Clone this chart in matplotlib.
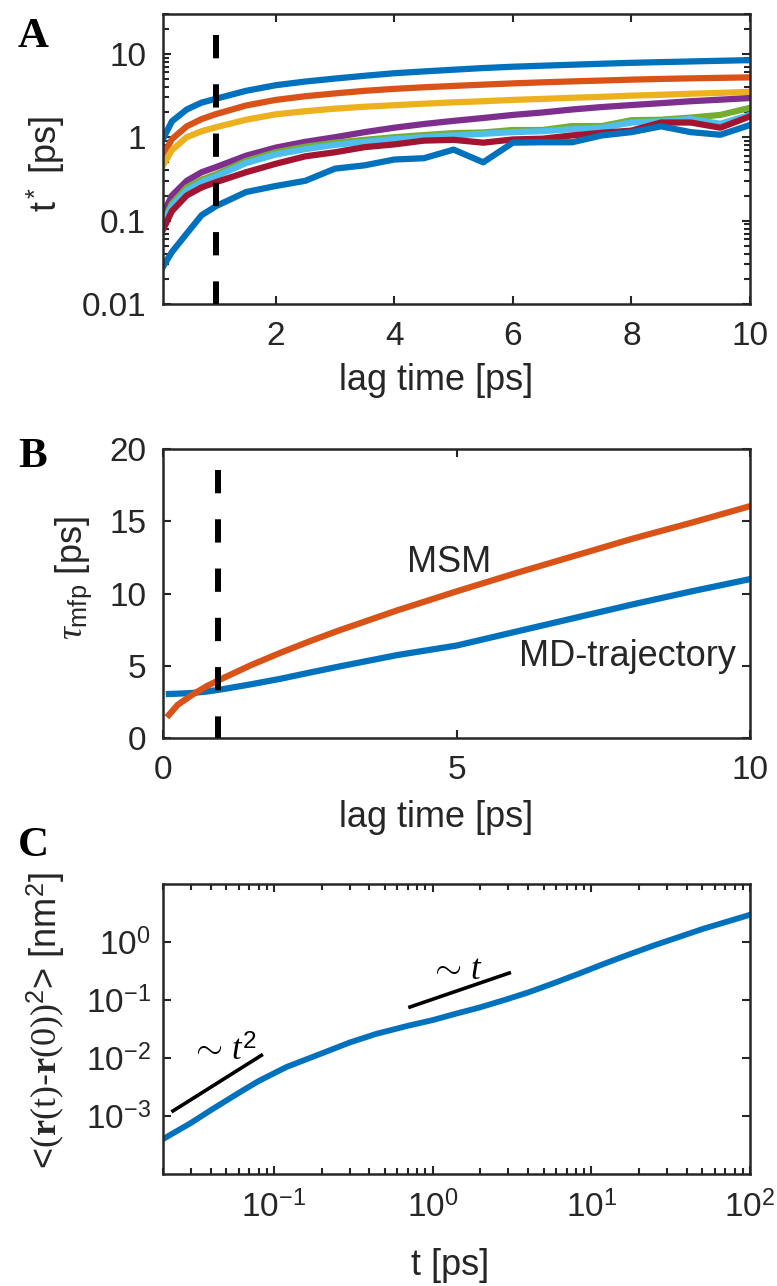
import numpy as np
import matplotlib
matplotlib.use('Agg')
import matplotlib.pyplot as plt
from matplotlib.ticker import LogLocator, NullFormatter, NullLocator

plt.rcParams['font.family'] = ['Liberation Sans', 'DejaVu Sans']
plt.rcParams['mathtext.fontset'] = 'custom'
plt.rcParams['mathtext.rm'] = 'Liberation Sans'
plt.rcParams['mathtext.it'] = 'Liberation Serif:italic'
plt.rcParams['mathtext.bf'] = 'Liberation Serif:bold'
plt.rcParams['mathtext.sf'] = 'Liberation Serif'

# ---- panel A: t* vs lag time, one curve per state ----
lag_a = [0.1, 0.25, 0.5, 0.75, 1.0, 1.5, 2.0, 2.5, 3.0, 3.5, 4.0, 4.5,
         5.0, 5.5, 6.0, 6.5, 7.0, 7.5, 8.0, 8.5, 9.0, 9.5, 10.0]
tstar_1 = [0.95, 1.55, 2.15, 2.6, 2.9, 3.6, 4.2, 4.65, 5.05, 5.45, 5.85, 6.15,
           6.45, 6.75, 7.0, 7.2, 7.4, 7.6, 7.8, 7.95, 8.1, 8.25, 8.4]
tstar_2 = [0.6, 0.95, 1.35, 1.65, 1.9, 2.4, 2.8, 3.1, 3.35, 3.6, 3.8, 3.97,
           4.12, 4.27, 4.42, 4.55, 4.67, 4.78, 4.9, 5.0, 5.08, 5.15, 5.22]
tstar_3 = [0.46, 0.7, 1.0, 1.18, 1.32, 1.62, 1.88, 2.05, 2.2, 2.32, 2.42, 2.52,
           2.62, 2.7, 2.8, 2.88, 2.97, 3.05, 3.15, 3.23, 3.32, 3.4, 3.5]
tstar_4 = [0.12, 0.2, 0.3, 0.38, 0.44, 0.6, 0.75, 0.88, 1.0, 1.15, 1.3, 1.44,
           1.57, 1.7, 1.85, 1.98, 2.15, 2.3, 2.43, 2.56, 2.7, 2.82, 2.95]
tstar_5 = [0.095, 0.16, 0.25, 0.31, 0.36, 0.52, 0.66, 0.77, 0.86, 0.93, 1.0, 1.06,
           1.12, 1.14, 1.22, 1.22, 1.36, 1.36, 1.6, 1.62, 1.72, 1.85, 2.25]
tstar_6 = [0.09, 0.15, 0.23, 0.29, 0.34, 0.49, 0.62, 0.72, 0.81, 0.88, 0.95, 1.0,
           1.05, 1.1, 1.15, 1.18, 1.25, 1.3, 1.5, 1.55, 1.65, 1.45, 1.85]
tstar_7 = [0.078, 0.13, 0.2, 0.25, 0.29, 0.38, 0.48, 0.59, 0.66, 0.76, 0.82, 0.91,
           0.93, 0.86, 0.94, 0.96, 1.05, 1.13, 1.2, 1.5, 1.5, 1.3, 1.78]
tstar_8 = [0.028, 0.042, 0.07, 0.116, 0.15, 0.22, 0.26, 0.3, 0.42, 0.46, 0.54, 0.56,
           0.71, 0.5, 0.86, 0.87, 0.87, 1.05, 1.15, 1.35, 1.15, 1.07, 1.4]
tstar_all = [tstar_1, tstar_2, tstar_3, tstar_4, tstar_5, tstar_6, tstar_7, tstar_8]
colors_a = ['#0072BD', '#D95319', '#EDB120', '#7E2F8E', '#77AC30', '#4DBEEE',
            '#A2142F', '#0072BD']

# ---- panel B: mean first passage time ----
lag_b = [0.1, 0.25, 0.5, 0.75, 1.0, 1.5, 2.0, 2.5, 3.0, 4.0, 5.0, 6.0, 7.0, 8.0, 9.0, 10.0]
tau_md = [3.05, 3.07, 3.12, 3.22, 3.37, 3.72, 4.1, 4.53, 4.95, 5.75, 6.4, 7.35,
          8.3, 9.25, 10.15, 11.0]
tau_msm = [1.6, 2.3, 3.0, 3.6, 4.1, 5.05, 5.9, 6.7, 7.45, 8.85, 10.15, 11.4,
           12.6, 13.8, 14.9, 16.05]

# ---- panel C: mean squared displacement ----
t_c = [0.02, 0.03, 0.04, 0.06, 0.08, 0.12, 0.2, 0.3, 0.44, 0.7, 1.0, 1.4, 2.0,
       2.8, 4.0, 5.8, 8.5, 12, 17, 25, 35, 51, 70, 100]
msd = [4.0e-4, 7.6e-4, 1.26e-3, 2.5e-3, 4.0e-3, 7.0e-3, 1.2e-2, 1.85e-2, 2.6e-2,
       3.6e-2, 4.5e-2, 5.8e-2, 7.5e-2, 9.9e-2, 0.135, 0.195, 0.29, 0.42, 0.6,
       0.88, 1.2, 1.7, 2.2, 2.95]
guide_t2_x = [0.0231, 0.0833]
guide_t2_y = [1.22e-3, 1.11e-2]
guide_t1_x = [0.72, 3.04]
guide_t1_y = [0.0757, 0.292]

INK = '#262626'
TICK_FS = 24
LABEL_FS = 26


def style(ax):
  for s in ax.spines.values():
    s.set_linewidth(1.8)
    s.set_color(INK)
  ax.tick_params(which='both', direction='in', top=True, right=True,
                 color=INK, labelcolor=INK, labelsize=TICK_FS, pad=12, width=1.5)
  ax.tick_params(which='major', length=6)
  ax.tick_params(which='minor', length=4)


fig = plt.figure(figsize=(7.77, 12.86), dpi=100)

# panel A
axA = fig.add_axes([0.2098, 0.7636, 0.7555, 0.2255])
for vals, c in zip(tstar_all, colors_a):
  axA.plot(lag_a, vals, color=c, lw=4.5, solid_joinstyle='round')
axA.plot([1.0, 1.0], [17, 0.01], color='black', lw=4.3, linestyle=(0, (3.9, 4.35)), zorder=5)
axA.set_yscale('log')
axA.set_xlim(0.1, 10)
axA.set_ylim(0.01, 30)
axA.set_xticks([2, 4, 6, 8, 10])
axA.set_yticks([0.01, 0.1, 1, 10])
axA.set_yticklabels(['0.01', '0.1', '1', '10'])
axA.yaxis.set_minor_locator(LogLocator(base=10, subs=np.arange(2, 10)))
axA.yaxis.set_minor_formatter(NullFormatter())
style(axA)
axA.set_xlabel('lag time [ps]', fontsize=LABEL_FS, color=INK)
axA.set_ylabel('t$^*$ [ps]', fontsize=LABEL_FS, color=INK)
axA.xaxis.set_label_coords(0.466, -0.205)
axA.yaxis.set_label_coords(-0.164, 0.483)

# panel B
axB = fig.add_axes([0.2098, 0.4261, 0.7555, 0.2247])
axB.plot(lag_b, tau_md, color='#0072BD', lw=4.5)
axB.plot(lag_b, tau_msm, color='#D95319', lw=4.5)
axB.plot([0.93, 0.93], [18.55, 0], color='black', lw=4.3, linestyle=(0, (3.9, 4.35)), zorder=5)
axB.set_xlim(0, 10)
axB.set_ylim(0, 20)
axB.set_xticks([0, 5, 10])
axB.set_yticks([0, 5, 10, 15, 20])
style(axB)
axB.text(4.15, 11.5, 'MSM', fontsize=26, color=INK, ha='left', va='baseline')
axB.text(7.92, 4.98, 'MD-trajectory', fontsize=26, color=INK, ha='center', va='baseline')
axB.set_xlabel('lag time [ps]', fontsize=LABEL_FS, color=INK)
axB.set_ylabel(r'$\tau_{\mathrm{mfp}}$ [ps]', fontsize=LABEL_FS, color=INK)
axB.xaxis.set_label_coords(0.466, -0.215)
axB.yaxis.set_label_coords(-0.118, 0.554)

# panel C
axC = fig.add_axes([0.2098, 0.0871, 0.7555, 0.2255])
axC.plot(t_c, msd, color='#0072BD', lw=4.2)
axC.plot(guide_t2_x, guide_t2_y, color='black', lw=2.6)
axC.plot(guide_t1_x, guide_t1_y, color='black', lw=2.6)
axC.set_xscale('log')
axC.set_yscale('log')
axC.set_xlim(0.02, 100)
axC.set_ylim(1e-4, 10)
axC.set_xticks([0.1, 1, 10, 100])
axC.set_xticklabels([r'$10^{-1}$', r'$10^{0}$', r'$10^{1}$', r'$10^{2}$'])
axC.set_yticks([1e-3, 1e-2, 1e-1, 1])
axC.set_yticklabels([r'$10^{-3}$', r'$10^{-2}$', r'$10^{-1}$', r'$10^{0}$'])
axC.xaxis.set_minor_locator(LogLocator(base=10, subs=np.arange(2, 10)))
axC.xaxis.set_minor_formatter(NullFormatter())
axC.yaxis.set_minor_locator(NullLocator())
style(axC)
axC.tick_params(axis='y', pad=9)
axC.text(0.0295, 0.0091, r'$\sim\,t^{\mathit{2}}$', fontsize=25, color='black', ha='left', va='baseline')
axC.text(0.953, 0.234, r'$\sim\,t$', fontsize=25, color='black', ha='left', va='baseline')
axC.set_xlabel('t [ps]', fontsize=LABEL_FS, color=INK)
axC.set_ylabel(r'<$\mathsf{(}\mathbf{r}\mathsf{(t)}$-$\mathbf{r}\mathsf{(0))}^2$> [nm$^2$]',
               fontsize=LABEL_FS, color=INK)
axC.xaxis.set_label_coords(0.489, -0.255)
axC.yaxis.set_label_coords(-0.164, 0.53)

# panel letters
for letter, ypx in [('A', 37), ('B', 457), ('C', 846)]:
  fig.text(33 / 777, 1 - ypx / 1286, letter, family='Liberation Serif', weight='bold',
           fontsize=31, ha='center', va='center', color='black')

fig.savefig('out.png', dpi=100)
plt.close(fig)
